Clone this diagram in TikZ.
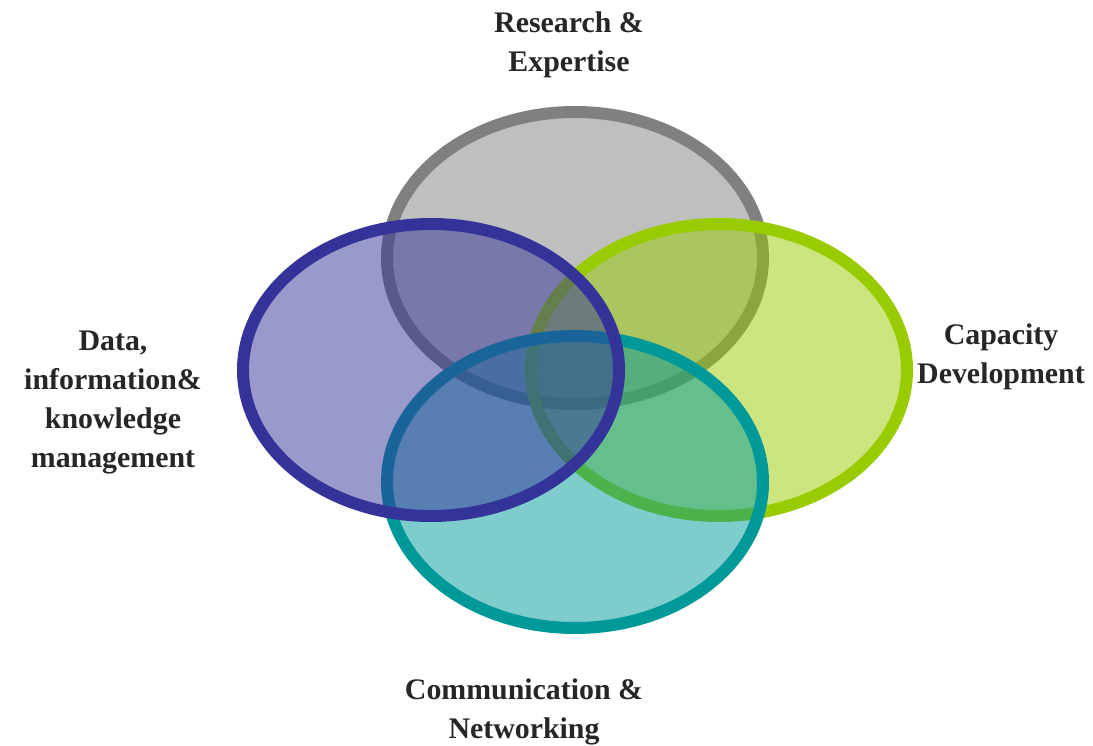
\documentclass[tikz,border=0pt]{standalone}
\usepackage{fontspec}
\setmainfont{Liberation Serif}
\definecolor{ringgray}{HTML}{808080}
\definecolor{ringgreen}{HTML}{99CC00}
\definecolor{ringteal}{HTML}{009999}
\definecolor{ringblue}{HTML}{333399}
\begin{document}
\begin{tikzpicture}[x=0.02cm, y=-0.02cm,
    ring/.style={line width=0.24cm, fill opacity=0.5},
    lbl/.style={align=center, font=\fontsize{17}{22.2}\selectfont\bfseries, text=black!85}]
\useasboundingbox (0,0) rectangle (1093,746);
% the four rings
\draw[ring, draw=ringgray, fill=ringgray] (575,258) ellipse [x radius=188, y radius=146];
\draw[ring, draw=ringgreen, fill=ringgreen] (719,370) ellipse [x radius=188, y radius=146];
\draw[ring, draw=ringteal, fill=ringteal] (575,482) ellipse [x radius=188, y radius=146];
\draw[ring, draw=ringblue, fill=ringblue] (431,370) ellipse [x radius=188, y radius=146];

\node[lbl] (research) at (569,45) {Research \&\\Expertise};
\node[lbl] (data) at (113,403) {Data,\\information\&\\knowledge\\management};
\node[lbl] (capacity) at (1001,357) {Capacity\\Development};
\node[lbl] (comm) at (524,712) {Communication \&\\Networking};
\end{tikzpicture}
\end{document}
